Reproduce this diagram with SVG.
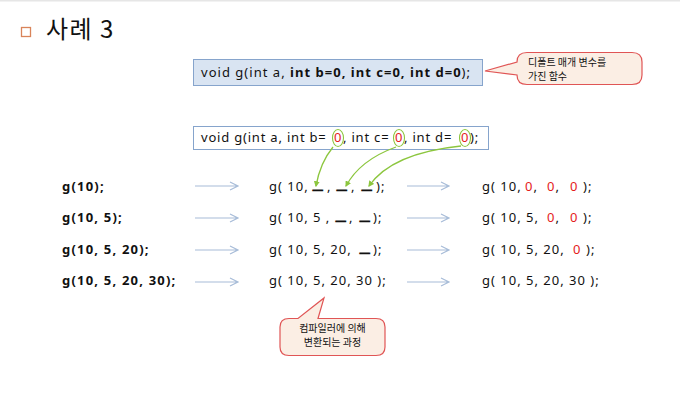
<svg xmlns="http://www.w3.org/2000/svg" width="680" height="402" viewBox="0 0 680 402">
<style>
.t{font-family:"Noto Sans","Noto Sans CJK KR",sans-serif;font-size:13px;fill:#111;letter-spacing:1px}
.b{font-weight:bold;letter-spacing:1.2px}
.r{fill:#e41b1b}
.k{font-family:"Noto Sans CJK KR","Noto Sans",sans-serif;font-size:10px;fill:#111}
.u{font-family:"Liberation Sans",sans-serif;font-size:17px;font-weight:bold;fill:#111;stroke:#111;stroke-width:1.1}
.ar{stroke:#a7bcd8;stroke-width:1.2;fill:none}
.ga{stroke:#8cc63e;stroke-width:1.3;fill:none;marker-end:url(#gh)}
.call{fill:#fbeee4;stroke:#e05555;stroke-width:1.2}
</style>
<defs>
<marker id="gh" viewBox="0 0 10 10" refX="8" refY="5" markerWidth="6" markerHeight="6" orient="auto" markerUnits="userSpaceOnUse">
<path d="M0,0 L10,5 L0,10 Z" fill="#8cc63e"/>
</marker>
</defs>
<rect x="0" y="0" width="680" height="402" fill="#fff"/>
<line x1="0" y1="0.8" x2="680" y2="0.8" stroke="#e6e6e6" stroke-width="1.5"/>

<g id="title">
<rect x="21.5" y="27.5" width="9" height="9" fill="none" stroke="#d9845a" stroke-width="1.3"/>
<text x="46" y="38" style="font-family:'Noto Sans CJK KR',sans-serif;font-size:24px;letter-spacing:1.5px;fill:#111">사례 3</text>
</g>

<g id="decl1">
<rect x="193.5" y="59.5" width="289" height="26" fill="#d9e4f2" stroke="#86a4cc" stroke-width="1"/>
<text class="t" x="201" y="77" textLength="269" lengthAdjust="spacing" style="letter-spacing:0">void g(int a, <tspan font-weight="bold">int b=0, int c=0, int d=0</tspan>);</text>
</g>

<g id="callout1">
<path class="call" d="M527,52.5 H632 Q642,52.5 642,62 V75 Q642,84.5 632,84.5 H527 Q517,84.5 517,75 L485,71 L517,62 Q517,52.5 527,52.5 Z"/>
<text class="k" x="528" y="65.5">디폴트 매개 변수를<tspan x="528" dy="14.6">가진 함수</tspan></text>
</g>

<g id="decl2">
<rect x="193.5" y="126.5" width="295" height="23" fill="#fff" stroke="#86a4cc" stroke-width="1"/>
<text class="t" x="201" y="142" style="letter-spacing:0.8px">void g(int a, int b=<tspan x="334" class="r">0</tspan><tspan x="343">, int c=</tspan><tspan x="395" class="r">0</tspan><tspan x="404">, int d=</tspan><tspan x="461" class="r">0</tspan><tspan x="470">);</tspan></text>
<ellipse cx="338" cy="138" rx="5.5" ry="8.5" fill="none" stroke="#8cc63e" stroke-width="1.1"/>
<ellipse cx="399" cy="138" rx="5.5" ry="8.5" fill="none" stroke="#8cc63e" stroke-width="1.1"/>
<ellipse cx="465" cy="138" rx="5.5" ry="8.5" fill="none" stroke="#8cc63e" stroke-width="1.1"/>
</g>

<g id="calls">
<text class="t b" x="62" y="191">g(10);</text>
<text class="t b" x="62" y="222">g(10, 5);</text>
<text class="t b" x="62" y="254">g(10, 5, 20);</text>
<text class="t b" x="62" y="285">g(10, 5, 20, 30);</text>
</g>

<g id="expanded">
<text class="t" x="269" y="191">g( 10,<tspan x="327">,</tspan><tspan x="351">,</tspan><tspan x="376">);</tspan></text>
<text class="u" x="313" y="189">_</text><text class="u" x="337" y="189">_</text><text class="u" x="362" y="189">_</text>
<text class="t" x="269" y="222">g( 10, 5 ,<tspan x="349">,</tspan><tspan x="373">);</tspan></text>
<text class="u" x="336" y="220">_</text><text class="u" x="360" y="220">_</text>
<text class="t" x="269" y="254">g( 10, 5, 20,<tspan x="373">);</tspan></text>
<text class="u" x="360" y="252">_</text>
<text class="t" x="269" y="285">g( 10, 5, 20, 30 );</text>
</g>

<g id="result">
<text class="t" x="482" y="191">g( 10,<tspan x="525" class="r">0</tspan>,<tspan x="547" class="r">0</tspan>,<tspan x="570" class="r">0</tspan><tspan x="583">);</tspan></text>
<text class="t" x="482" y="222">g( 10, 5,<tspan x="547" class="r">0</tspan>,<tspan x="570" class="r">0</tspan><tspan x="583">);</tspan></text>
<text class="t" x="482" y="254">g( 10, 5, 20,<tspan x="573" class="r">0</tspan><tspan x="586">);</tspan></text>
<text class="t" x="482" y="285">g( 10, 5, 20, 30 );</text>
</g>

<g id="callout2">
<path class="call" d="M289,318.5 H298 L324,298 L318,318.5 H376 Q385,318.5 385,327 V347 Q385,355.5 376,355.5 H289 Q280,355.5 280,347 V327 Q280,318.5 289,318.5 Z"/>
<text class="k" x="332.5" y="331.5" text-anchor="middle">컴파일러에 의해<tspan x="332.5" dy="14.6">변환되는 과정</tspan></text>
</g>

<g id="connectors">
<g class="ar">
<path d="M195,186 H238 M230,182 L238,186 L230,190"/>
<path d="M195,218 H238 M230,214 L238,218 L230,222"/>
<path d="M195,250 H238 M230,246 L238,250 L230,254"/>
<path d="M195,282 H238 M230,278 L238,282 L230,286"/>
<path d="M407,186 H449 M441,182 L449,186 L441,190"/>
<path d="M407,218 H449 M441,214 L449,218 L441,222"/>
<path d="M407,250 H449 M441,246 L449,250 L441,254"/>
<path d="M407,282 H449 M441,278 L449,282 L441,286"/>
</g>
<path class="ga" d="M333,147 Q320,163 316,186"/>
<path class="ga" d="M396,147 Q360,160 346,186"/>
<path class="ga" d="M461,146 Q392,153 369,186"/>
</g>
</svg>
